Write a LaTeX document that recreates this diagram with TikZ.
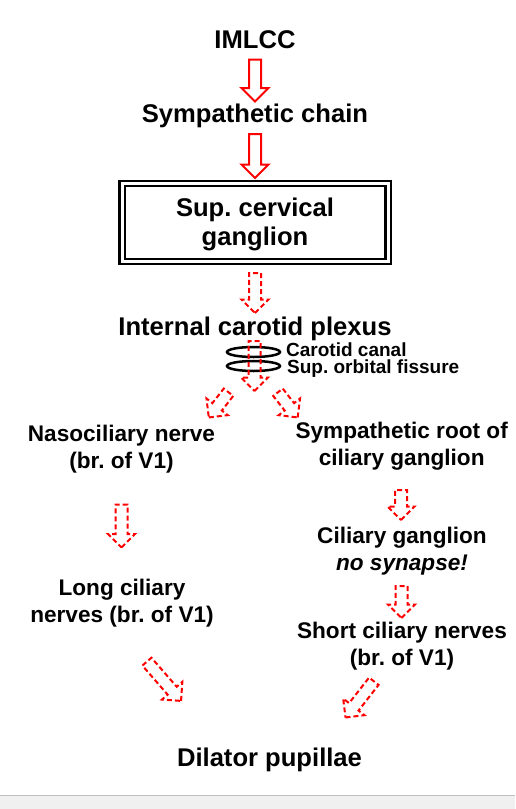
\documentclass[tikz,border=0pt]{standalone}
\usepackage{fontspec}
\setmainfont{Liberation Sans}
\usetikzlibrary{shapes.arrows}
\frenchspacing

\begin{document}
\begin{tikzpicture}[x=1pt,y=1pt,
  bigtxt/.style={font=\fontsize{25.6}{29}\selectfont\bfseries, align=center, inner sep=0pt, anchor=base},
  midtxt/.style={font=\fontsize{22.6}{27}\selectfont\bfseries, align=center, inner sep=0pt, anchor=base},
  smalltxt/.style={font=\fontsize{19}{20}\selectfont\bfseries, inner sep=0pt, anchor=base west},
  blockarrow/.style={single arrow, draw=red, line width=2pt, inner sep=5pt,
    single arrow head extend=7.5pt, single arrow tip angle=90, minimum height=#1},
  dasharrow/.style={blockarrow=#1, dash pattern=on 5pt off 3pt}
]
\useasboundingbox (0,0) rectangle (515,-809);
% grey strip at the foot
\fill[black!6] (0,-795) rectangle (515,-809);
\draw[black!25, line width=1pt] (0,-795) -- (515,-795);

% top of the chain
\node[bigtxt] (imlcc) at (255,-48) {IMLCC};
\node[blockarrow=42pt, rotate=-90] (a1) at (255,-77.5) {};
\node[bigtxt] (chain) at (255,-122) {Sympathetic chain};
\node[blockarrow=44pt, rotate=-90] (a2) at (255,-153) {};
\node[draw, double, double distance=3pt, line width=2.3pt, minimum width=266pt, minimum height=78pt,
  inner sep=0pt] (scg) at (255,-222.4) {};
\node[bigtxt] (scgtext) at (255,-245) {Sup. cervical\\ganglion};
\node[dasharrow=40pt, rotate=-90] (a3) at (255,-290) {};
\node[bigtxt] (plexus) at (255,-335) {Internal carotid plexus};

% canal and fissure
\draw[line width=2.5pt] (253.5,-352) ellipse [x radius=26.5, y radius=5];
\draw[line width=2.5pt] (253.5,-366) ellipse [x radius=26.5, y radius=5];
\node[dasharrow=50pt, rotate=-90] (a4) at (254.5,-363) {};
\node[smalltxt] (canal) at (286,-356.5) {Carotid canal};
\node[smalltxt] (fissure) at (287,-373.5) {Sup. orbital fissure};
\node[dasharrow=32pt, rotate=232] (a5) at (220.5,-402.5) {};
\node[dasharrow=32pt, rotate=308] (a6) at (286,-402.5) {};

% left branch
\node[midtxt] (naso) at (121.5,-468) {Nasociliary nerve\\(br. of V1)};
\node[dasharrow=43pt, rotate=-90] (a7) at (121.5,-523) {};
\node[midtxt] (long) at (122,-622.5) {Long ciliary\\nerves (br. of V1)};
\node[dasharrow=52pt, rotate=-49] (a10) at (162,-679) {};

% right branch
\node[midtxt] (root) at (401.7,-465) {Sympathetic root of\\ciliary ganglion};
\node[dasharrow=30pt, rotate=-90] (a8) at (401,-502) {};
\node[midtxt] (cg) at (402,-570) {Ciliary ganglion\\\textit{no synapse!}};
\node[dasharrow=32pt, rotate=-90] (a9) at (401.5,-599) {};
\node[midtxt] (short) at (402,-665) {Short ciliary nerves\\(br. of V1)};
\node[dasharrow=46pt, rotate=232] (a11) at (361.5,-697) {};

\node[bigtxt] (dilator) at (269.5,-766.7) {Dilator pupillae};
\end{tikzpicture}
\end{document}
